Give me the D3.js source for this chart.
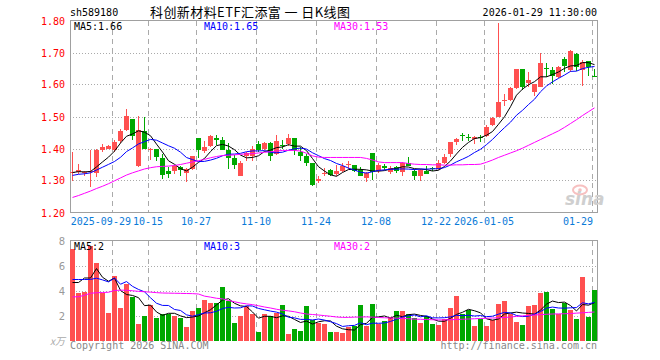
<!DOCTYPE html>
<html><head><meta charset="utf-8">
<script src="https://cdn.jsdelivr.net/npm/d3@7"></script>
<style>body{margin:0;background:#fff}svg{display:block}</style>
</head><body><svg id="c" width="660" height="360"></svg>
<script>
// ---- data ----
const openP  = [1.322,1.327,1.325,1.327,1.325,1.396,1.400,1.394,1.422,1.458,1.493,1.346,1.455,1.398,1.399,1.370,1.330,1.331,1.343,1.325,
                1.335,1.434,1.391,1.408,1.432,1.427,1.396,1.370,1.315,1.375,1.377,1.413,1.399,1.417,1.383,1.412,1.415,1.432,1.390,1.375,
                1.354,1.297,1.322,1.333,1.321,1.331,1.348,1.349,1.333,1.307,1.385,1.331,1.344,1.328,1.342,1.328,1.356,1.331,1.313,1.331,
                1.340,1.335,1.355,1.382,1.421,1.442,1.437,1.430,1.436,1.439,1.473,1.499,1.549,1.551,1.590,1.648,1.605,1.576,1.593,1.652,
                1.645,1.622,1.679,1.645,1.695,1.645,1.673,1.628];
const highP  = [1.390,1.352,1.330,1.396,1.400,1.414,1.411,1.427,1.462,1.524,1.493,1.502,1.500,1.402,1.400,1.382,1.342,1.349,1.345,1.338,
                1.377,1.434,1.422,1.441,1.443,1.435,1.417,1.380,1.362,1.390,1.408,1.422,1.419,1.419,1.443,1.427,1.446,1.432,1.405,1.383,
                1.356,1.313,1.339,1.335,1.349,1.356,1.360,1.349,1.343,1.328,1.385,1.354,1.351,1.344,1.346,1.359,1.372,1.335,1.335,1.344,
                1.343,1.364,1.382,1.421,1.433,1.450,1.445,1.439,1.443,1.473,1.497,1.793,1.570,1.593,1.648,1.648,1.640,1.603,1.700,1.666,
                1.655,1.657,1.686,1.707,1.697,1.676,1.673,1.650];
const lowP   = [1.297,1.321,1.315,1.281,1.312,1.390,1.398,1.390,1.417,1.455,1.427,1.343,1.397,1.365,1.362,1.305,1.307,1.321,1.315,1.295,
                1.333,1.370,1.385,1.404,1.410,1.394,1.335,1.335,1.313,1.362,1.362,1.390,1.396,1.362,1.380,1.400,1.408,1.380,1.362,1.346,
                1.283,1.292,1.313,1.313,1.315,1.328,1.335,1.328,1.313,1.294,1.300,1.323,1.333,1.321,1.325,1.315,1.344,1.300,1.298,1.321,
                1.330,1.333,1.353,1.374,1.411,1.424,1.424,1.414,1.419,1.437,1.470,1.497,1.533,1.549,1.587,1.583,1.591,1.565,1.591,1.624,
                1.603,1.619,1.640,1.640,1.642,1.596,1.626,1.622];
const closeP = [1.326,1.333,1.327,1.330,1.396,1.404,1.408,1.421,1.456,1.502,1.440,1.458,1.399,1.400,1.372,1.316,1.321,1.344,1.333,1.335,
                1.375,1.396,1.406,1.440,1.428,1.394,1.370,1.349,1.356,1.385,1.400,1.396,1.417,1.377,1.424,1.410,1.432,1.394,1.377,1.354,
                1.286,1.305,1.325,1.318,1.331,1.346,1.351,1.331,1.315,1.323,1.328,1.349,1.340,1.339,1.331,1.356,1.344,1.315,1.333,1.321,
                1.335,1.356,1.374,1.419,1.431,1.438,1.433,1.435,1.433,1.468,1.496,1.546,1.553,1.590,1.648,1.591,1.614,1.601,1.666,1.648,
                1.626,1.655,1.657,1.704,1.655,1.671,1.655,1.625];
const volume = [7.31,3.81,3.89,7.57,6.19,3.84,2.21,5.17,2.61,4.56,3.47,1.33,1.97,2.83,1.81,2.11,2.16,1.97,1.81,1.09,
                2.35,2.61,3.25,3.01,3.01,4.29,3.17,1.41,1.97,2.75,2.11,0.69,2.16,1.97,2.19,2.85,0.51,0.91,0.75,2.75,
                1.65,1.44,1.31,0.67,0.67,0.59,1.07,1.20,2.83,1.20,2.91,1.31,1.57,1.92,2.37,2.37,2.11,1.79,1.39,2.00,
                1.31,1.25,1.73,2.59,3.55,2.16,2.45,1.15,1.76,1.15,1.63,2.91,3.15,2.16,1.49,1.28,2.75,2.83,3.81,3.87,
                2.51,2.16,3.01,2.43,1.71,5.09,1.89,4.03];
// sessions just before the visible window (estimated from where the MA lines start)
const priorClose  = [1.300,1.310,1.300,1.310,1.315,1.320,1.330,1.325,1.324];
const priorVolume = [3.80,3.90,7.50,5.20,5.20,3.81,2.09,7.57,2.42];
// 30-day averages as drawn in the picture
const ma30Price = [1.247,1.253,1.260,1.267,1.275,1.282,1.290,1.299,1.308,1.317,1.324,1.330,1.336,1.340,1.343,1.344,1.345,1.347,1.350,1.354,
                   1.358,1.362,1.366,1.371,1.375,1.378,1.379,1.380,1.382,1.383,1.384,1.386,1.388,1.390,1.392,1.394,1.394,1.394,1.392,1.385,
                   1.377,1.373,1.372,1.372,1.372,1.372,1.372,1.372,1.372,1.369,1.364,1.358,1.356,1.356,1.356,1.356,1.353,1.351,1.350,1.350,
                   1.349,1.349,1.348,1.348,1.349,1.349,1.350,1.350,1.351,1.357,1.364,1.372,1.379,1.386,1.393,1.401,1.410,1.419,1.428,1.437,
                   1.446,1.455,1.466,1.478,1.490,1.503,1.515,1.527];
const ma30Volume = [3.49,3.50,3.62,3.78,3.82,3.84,3.86,4.00,4.03,4.02,3.98,3.93,3.90,3.87,3.83,3.80,3.79,3.78,3.77,3.76,
                    3.75,3.72,3.55,3.47,3.38,3.33,3.20,3.10,3.00,2.93,2.87,2.78,2.68,2.60,2.50,2.42,2.37,2.30,2.20,2.12,
                    2.08,2.04,1.99,1.94,1.88,1.85,1.85,1.87,1.88,1.89,1.87,1.84,1.82,1.80,1.79,1.77,1.74,1.71,1.70,1.68,
                    1.66,1.65,1.65,1.66,1.68,1.70,1.72,1.74,1.76,1.78,1.80,1.82,1.84,1.88,1.93,1.97,2.01,2.04,2.07,2.10,
                    2.12,2.13,2.14,2.16,2.19,2.22,2.25,2.28];
const dateTickIdx = [7,13,21,31,41,51,61,69,87];
const dateLabels  = ["2025-09-29","10-15","10-27","11-10","11-24","12-08","12-22","2026-01-05","01-29"];
const priceTicks  = [1.20,1.30,1.40,1.50,1.60,1.70,1.80];
const volTicks    = [2,4,6,8];
const priceLegend = ["MA5:1.66","MA10:1.65","MA30:1.53"];
const volLegend   = ["MA5:2","MA10:3","MA30:2"];
const code = "sh589180";
const title = "科创新材料ETF汇添富 一 日K线图";
const stamp = "2026-01-29 11:30:00";

// ---- layout ----
const L = 70, R = 597, PT = 20.5, PB = 212.5, VT = 240.5, VB = 340.5;
const RED = "#ff5050", GREEN = "#00a800", MONO = "'DejaVu Sans Mono', monospace";
const maColors = ["#000000", "#0000ff", "#ff00ff"];
const svg = d3.select("#c");
svg.append("rect").attr("width",660).attr("height",360).attr("fill","#fff");

const idx = d3.range(closeP.length);
const x = d3.scaleBand().domain(idx).range([L, R]).paddingInner(1/6).paddingOuter(0);
const yP = d3.scaleLinear().domain([1.20, 1.80]).range([PB, PT]);
const yV = d3.scaleLinear().domain([0, 8]).range([VB, VT]);
const cx = i => x(i) + x.bandwidth() / 2;

function movAvg(vals, prior, n) {
  const all = prior.concat(vals);
  return vals.map((_, i) => d3.mean(all.slice(i + prior.length - n + 1, i + prior.length + 1)));
}
const ma5P = movAvg(closeP, priorClose, 5), ma10P = movAvg(closeP, priorClose, 10);
const ma5V = movAvg(volume, priorVolume, 5), ma10V = movAvg(volume, priorVolume, 10);
const up = i => closeP[i] >= openP[i];

// ---- grids ----
const g = svg.append("g").attr("shape-rendering","crispEdges");
[[PT, PB, yP, priceTicks.slice(1, -1)], [VT, VB, yV, volTicks.slice(0, -1)]].forEach(([t, b, ys, ticks]) => {
  g.selectAll(null).data(ticks).enter().append("line")
    .attr("x1", L).attr("x2", R).attr("y1", d => Math.round(ys(d)) + 0.5).attr("y2", d => Math.round(ys(d)) + 0.5)
    .attr("stroke", "#aaa").attr("stroke-dasharray", "1,2");
  g.selectAll(null).data(dateTickIdx).enter().append("line")
    .attr("x1", d => x(d) + 0.5).attr("x2", d => x(d) + 0.5).attr("y1", t).attr("y2", b)
    .attr("stroke", "#aaa").attr("stroke-dasharray", "5,4");
});
// frames
g.append("rect").attr("x", L + 0.5).attr("y", PT).attr("width", R - L).attr("height", PB - PT)
  .attr("fill", "none").attr("stroke", "#a0a0a0");
g.append("path").attr("d", `M${L + 0.5},${VB}V${VT}H${R + 0.5}V${VB}`).attr("fill", "none").attr("stroke", "#a0a0a0");

// ---- watermark ----
const wm = svg.append("g");
wm.append("ellipse").attr("cx", 580).attr("cy", 190).attr("rx", 7).attr("ry", 4.5)
  .attr("fill", "none").attr("stroke", "#f7c0c0").attr("stroke-width", 2);
wm.append("circle").attr("cx", 580).attr("cy", 190).attr("r", 1.8).attr("fill", "#f7c0c0");
wm.append("text").attr("x", 565).attr("y", 205).text("sina")
  .attr("font-family", "'DejaVu Sans', sans-serif").attr("font-size", 17).attr("font-weight", "bold")
  .attr("font-style", "italic").attr("fill", "#cfcfcf");

// ---- candles ----
const cg = svg.append("g").attr("shape-rendering", "crispEdges");
cg.selectAll(".wick").data(idx).enter().append("rect")
  .attr("x", i => x(i) + 2).attr("width", 1)
  .attr("y", i => Math.round(yP(highP[i])))
  .attr("height", i => Math.max(1, Math.round(yP(lowP[i])) - Math.round(yP(highP[i]))))
  .attr("fill", i => up(i) ? RED : GREEN);
cg.selectAll(".body").data(idx).enter().append("rect")
  .attr("x", i => x(i)).attr("width", x.bandwidth())
  .attr("y", i => Math.round(yP(Math.max(openP[i], closeP[i]))))
  .attr("height", i => Math.max(1, Math.round(yP(Math.min(openP[i], closeP[i]))) - Math.round(yP(Math.max(openP[i], closeP[i])))))
  .attr("fill", i => up(i) ? RED : GREEN);

// ---- volume bars ----
cg.selectAll(".vol").data(idx).enter().append("rect")
  .attr("x", i => x(i)).attr("width", x.bandwidth())
  .attr("y", i => Math.round(yV(volume[i])))
  .attr("height", i => Math.round(VB) - Math.round(yV(volume[i])))
  .attr("fill", i => up(i) ? RED : GREEN);

// ---- moving average lines ----
const lineP = d3.line().x((d, i) => cx(i)).y(d => yP(d));
const lineV = d3.line().x((d, i) => cx(i)).y(d => yV(d));
[ma5P, ma10P, ma30Price].forEach((s, k) => svg.append("path").attr("d", lineP(s))
  .attr("fill", "none").attr("stroke", maColors[k]).attr("stroke-width", 1));
[ma5V, ma10V, ma30Volume].forEach((s, k) => svg.append("path").attr("d", lineV(s))
  .attr("fill", "none").attr("stroke", maColors[k]).attr("stroke-width", 1));

// ---- texts ----
const txt = (tx, ty, s, o = {}) => svg.append("text").attr("x", tx).attr("y", ty).text(s)
  .attr("font-family", o.ff || MONO).attr("font-size", o.fs || 10).attr("fill", o.fill || "#000")
  .attr("text-anchor", o.anchor || "start");
txt(L, 16, code);
txt(150, 16.5, title, {ff: "'Noto Sans CJK SC', sans-serif", fs: 13}).attr("textLength", 200).attr("lengthAdjust", "spacing");
txt(R, 16, stamp, {anchor: "end"});
const legX = [74, 204, 334];
priceLegend.forEach((s, k) => txt(legX[k], 29.5, s, {fill: maColors[k]}));
volLegend.forEach((s, k) => txt(legX[k], 249.5, s, {fill: maColors[k]}));
priceTicks.forEach(p => txt(65, Math.round(yP(p)) + 4, p.toFixed(2), {fill: "#f00", anchor: "end"}));
volTicks.forEach(v => txt(65, Math.round(yV(v)) + 4, String(v), {fill: "#999", anchor: "end", ff: "'DejaVu Sans', sans-serif"}));
txt(65, 345, "x万", {fill: "#aaa", anchor: "end", ff: "'Noto Sans CJK SC', serif", fs: 10}).attr("font-style", "italic");
// date labels: centred on their grid line, nudged so neighbours and the frame are not crossed
let prevLeft = Infinity;
const placed = dateTickIdx.map((d, k) => {
  const px = x(d), w = dateLabels[k].length * 6.02;
  let c = Math.min(px, R - w / 2 - 4);
  return {c, w, k};
});
for (let k = placed.length - 2; k >= 0; k--) {
  const nextLeft = placed[k + 1].c - placed[k + 1].w / 2;
  if (placed[k].c + placed[k].w / 2 > nextLeft - 2) placed[k].c = nextLeft - 2 - placed[k].w / 2;
}
placed.forEach(p => txt(p.c, 225, dateLabels[p.k], {fill: "#0a7ad8", anchor: "middle"}));
txt(L, 349, "Copyright 2026 SINA.COM", {fill: "#888"});
txt(R, 349, "http://finance.sina.com.cn", {fill: "#888", anchor: "end"});
</script></body></html>
